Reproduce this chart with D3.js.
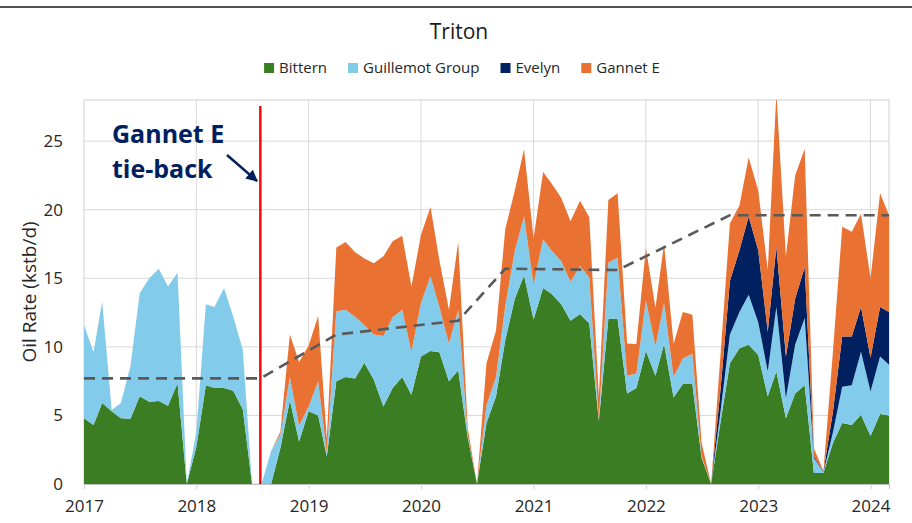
<!DOCTYPE html>
<html>
<head>
<meta charset="utf-8">
<script src="https://cdn.jsdelivr.net/npm/d3@7"></script>
<style>
  body { margin: 0; background: #fff; }
  svg { display: block; font-family: "Open Sans", "Noto Sans", sans-serif; }
</style>
</head>
<body>
<div id="chart"></div>
<script>
// monthly data, Jan 2017 .. Mar 2024 (kstb/d)
var firstMonth = "2017-01-01"
var lastMonth = "2024-03-01"

var bittern = [4.8, 4.3, 5.9, 5.3, 4.8, 4.75, 6.4, 6.0, 6.05, 5.7, 7.35, 0,
  2.7, 7.2, 7.0, 7.0, 6.8, 5.45, 0, 0, 0, 2.6, 6.1, 3.1,
  5.3, 5.0, 2.0, 7.5, 7.8, 7.7, 8.85, 7.6, 5.65, 7.0, 7.8, 6.5,
  9.3, 9.7, 9.6, 7.5, 8.3, 3.4, 0, 4.45, 6.4, 10.5, 13.5, 15.2,
  12.0, 14.3, 13.85, 13.1, 11.9, 12.4, 11.7, 4.6, 12.05, 12.05, 6.6, 7.0,
  9.7, 7.9, 10.2, 6.3, 7.3, 7.3, 1.9, 0, 4.6, 8.8, 9.9, 10.15,
  9.4, 6.4, 8.2, 4.8, 6.6, 7.2, 0.8, 0.8, 3.0, 4.45, 4.3, 5.05,
  3.5, 5.1, 5.0]

var guillemot = [6.8, 5.3, 7.4, 0.1, 1.1, 3.85, 7.5, 9.0, 9.65, 8.7, 8.05, 0,
  1.1, 5.9, 5.9, 7.3, 5.4, 4.35, 0, 0, 2.4, 1.0, 1.7, 1.15,
  0.35, 2.5, 0.3, 5.1, 4.9, 4.5, 2.75, 3.3, 5.15, 5.15, 4.9, 3.15,
  3.9, 5.45, 3.3, 2.75, 4.4, 0.2, 0, 1.3, 1.4, 2.5, 3.5, 4.3,
  2.55, 3.55, 3.15, 3.15, 2.85, 3.5, 3.35, 0.1, 4.1, 4.45, 1.3, 1.05,
  3.7, 2.15, 3.0, 1.5, 1.85, 2.2, 0.1, 0, 0.8, 2.1, 2.65, 3.65,
  2.4, 1.8, 4.7, 1.45, 3.55, 4.9, 1.1, 0.05, 0.8, 2.65, 2.9, 4.6,
  3.25, 4.2, 3.7]

var evelyn = [0, 0, 0, 0, 0, 0, 0, 0, 0, 0, 0, 0,
  0, 0, 0, 0, 0, 0, 0, 0, 0, 0, 0, 0,
  0, 0, 0, 0, 0, 0, 0, 0, 0, 0, 0, 0,
  0, 0, 0, 0, 0, 0, 0, 0, 0, 0, 0, 0,
  0, 0, 0, 0, 0, 0, 0, 0, 0, 0, 0, 0,
  0, 0, 0, 0, 0, 0, 0, 0, 1.6, 3.9, 4.5, 5.7,
  5.25, 2.9, 4.4, 3.05, 3.35, 3.7, 0.1, 0.05, 1.5, 3.65, 3.55, 3.25,
  2.45, 3.6, 3.85]

var gannetE = [0, 0, 0, 0, 0, 0, 0, 0, 0, 0, 0, 0,
  0, 0, 0, 0, 0, 0, 0, 0, 0, 0.2, 3.1, 4.65,
  4.45, 4.75, 1.0, 4.65, 4.95, 4.7, 4.85, 5.2, 5.8, 5.55, 5.4, 4.75,
  4.95, 5.05, 3.4, 2.45, 4.95, 0.5, 0, 3.05, 3.4, 5.6, 4.4, 4.9,
  3.35, 4.9, 4.9, 4.6, 4.4, 4.75, 4.4, 1.7, 4.55, 4.7, 2.35, 2.15,
  3.8, 2.8, 4.3, 2.4, 3.4, 2.85, 1.0, 0, 2.6, 4.2, 3.25, 4.3,
  4.35, 4.5, 11.2, 7.3, 9.0, 8.65, 0.6, 0.05, 4.4, 8.0, 7.65, 6.8,
  5.8, 8.3, 7.05]

var seriesNames = ["Bittern", "Guillemot Group", "Evelyn", "Gannet E"]
var seriesColors = ["#3b7d23", "#83cbeb", "#002060", "#e97132"]

// plateau / trend line (dashed)
var trendDates = ["2017-01-01", "2018-07-28", "2019-04-01", "2020-05-01", "2020-10-01", "2021-10-01", "2022-10-01", "2024-03-01"]
var trendValues = [7.7, 7.7, 10.9, 11.9, 15.7, 15.6, 19.6, 19.6]

var tieBackDate = "2018-07-28"
var yTicks = [0, 5, 10, 15, 20, 25]
var xTickYears = [2017, 2018, 2019, 2020, 2021, 2022, 2023, 2024]

var width = 912, height = 523
var margin = {left: 84, right: 23, top: 100, bottom: 39}

var parse = d3.timeParse("%Y-%m-%d")
var months = d3.timeMonth.range(parse(firstMonth), d3.timeMonth.offset(parse(lastMonth), 1))

var rows = months.map(function (d, i) {
    return {date: d, "Bittern": bittern[i], "Guillemot Group": guillemot[i], "Evelyn": evelyn[i], "Gannet E": gannetE[i]}
})

var svg = d3.select("#chart").append("svg")
    .attr("width", width)
    .attr("height", height)

var x = d3.scaleTime()
    .domain([parse(firstMonth), parse(lastMonth)])
    .range([margin.left, width - margin.right])

var y = d3.scaleLinear()
    .domain([0, 28])
    .range([height - margin.bottom, margin.top])

// frame line at the very top
svg.append("line")
    .attr("x1", 0).attr("x2", width)
    .attr("y1", 7).attr("y2", 7)
    .attr("stroke", "#1a1a1a").attr("stroke-width", 1.5)

// gridlines
svg.append("g").selectAll("line.h")
    .data(yTicks.slice(1))
    .enter().append("line")
    .attr("x1", margin.left).attr("x2", width - margin.right)
    .attr("y1", function (d) { return y(d) }).attr("y2", function (d) { return y(d) })
    .attr("stroke", "#d9d9d9")

svg.append("g").selectAll("line.v")
    .data(xTickYears.slice(1))
    .enter().append("line")
    .attr("x1", function (d) { return x(new Date(d, 0, 1)) })
    .attr("x2", function (d) { return x(new Date(d, 0, 1)) })
    .attr("y1", margin.top).attr("y2", height - margin.bottom)
    .attr("stroke", "#d9d9d9")

svg.append("rect")
    .attr("x", margin.left).attr("y", margin.top)
    .attr("width", width - margin.left - margin.right)
    .attr("height", height - margin.top - margin.bottom)
    .attr("fill", "none").attr("stroke", "#d0d0d0")

// stacked areas
svg.append("clipPath").attr("id", "plotClip")
    .append("rect")
    .attr("x", margin.left).attr("y", margin.top)
    .attr("width", width - margin.left - margin.right)
    .attr("height", height - margin.top - margin.bottom)

var stack = d3.stack().keys(seriesNames)
var layers = stack(rows)

var area = d3.area()
    .x(function (d) { return x(d.data.date) })
    .y0(function (d) { return y(d[0]) })
    .y1(function (d) { return y(d[1]) })

svg.append("g")
    .attr("clip-path", "url(#plotClip)")
    .selectAll("path")
    .data(layers)
    .enter().append("path")
    .attr("d", area)
    .attr("fill", function (d, i) { return seriesColors[i] })

// bottom axis
var xAxis = d3.axisBottom(x)
    .tickValues(xTickYears.map(function (yr) { return new Date(yr, 0, 1) }))
    .tickFormat(d3.timeFormat("%Y"))
    .tickSize(5)

var gx = svg.append("g")
    .attr("transform", "translate(0," + (height - margin.bottom) + ")")
    .call(xAxis)
gx.select(".domain").attr("stroke", "#bfbfbf")
gx.selectAll(".tick line").attr("stroke", "#d0d0d0")
gx.selectAll(".tick text")
    .attr("font-size", 17).attr("fill", "#262626").attr("dy", "1.15em")
    .style("font-family", "'Open Sans', sans-serif")

var yAxis = d3.axisLeft(y).tickValues(yTicks).tickSize(0).tickPadding(21)
var gy = svg.append("g")
    .attr("transform", "translate(" + margin.left + ",0)")
    .call(yAxis)
gy.select(".domain").remove()
gy.selectAll(".tick text")
    .attr("font-size", 17).attr("fill", "#262626")
    .style("font-family", "'Open Sans', sans-serif")

svg.append("text")
    .attr("transform", "translate(36,292) rotate(-90)")
    .attr("text-anchor", "middle")
    .attr("font-size", 19).attr("fill", "#262626")
    .text("Oil Rate (kstb/d)")

// trend line
var line = d3.line()
    .x(function (d) { return x(parse(d[0])) })
    .y(function (d) { return y(d[1]) })

svg.append("path")
    .datum(d3.zip(trendDates, trendValues))
    .attr("d", line)
    .attr("fill", "none")
    .attr("stroke", "#595959")
    .attr("stroke-width", 2.6)
    .attr("stroke-dasharray", "11,7")

// tie-back marker
svg.append("line")
    .attr("x1", x(parse(tieBackDate))).attr("x2", x(parse(tieBackDate)))
    .attr("y1", 106).attr("y2", height - margin.bottom)
    .attr("stroke", "#ff0000").attr("stroke-width", 2.4)

var defs = svg.append("defs")
defs.append("marker")
    .attr("id", "arrowHead")
    .attr("viewBox", "0 0 10 10")
    .attr("refX", 9).attr("refY", 5)
    .attr("markerWidth", 4.5).attr("markerHeight", 4.5)
    .attr("orient", "auto")
    .append("path")
    .attr("d", "M0,0 L10,5 L0,10 z")
    .attr("fill", "#002060")

svg.append("line")
    .attr("x1", 227).attr("y1", 155)
    .attr("x2", 257).attr("y2", 181)
    .attr("stroke", "#002060").attr("stroke-width", 2.6)
    .attr("marker-end", "url(#arrowHead)")

var note = svg.append("text")
    .attr("fill", "#002060")
    .attr("font-size", 25)
    .attr("font-weight", "bold")
note.append("tspan").attr("x", 112).attr("y", 143).text("Gannet E")
note.append("tspan").attr("x", 112).attr("y", 178).text("tie-back")

// title
svg.append("text")
    .attr("x", 459).attr("y", 39)
    .attr("text-anchor", "middle")
    .attr("font-size", 21).attr("fill", "#1a1a1a")
    .text("Triton")

// legend
var legend = svg.append("g")
var lx = 0
seriesNames.forEach(function (name, i) {
    var item = legend.append("g").attr("transform", "translate(" + lx + ",0)")
    item.append("rect")
        .attr("x", 0).attr("y", 63)
        .attr("width", 10).attr("height", 10)
        .attr("fill", seriesColors[i])
    var t = item.append("text")
        .attr("x", 15).attr("y", 73)
        .attr("font-size", 15).attr("fill", "#262626")
        .text(name)
    lx += 15 + t.node().getComputedTextLength() + 21
})
var legendW = lx - 21
legend.attr("transform", "translate(" + (462 - legendW / 2) + ",0)")
</script>
</body>
</html>
